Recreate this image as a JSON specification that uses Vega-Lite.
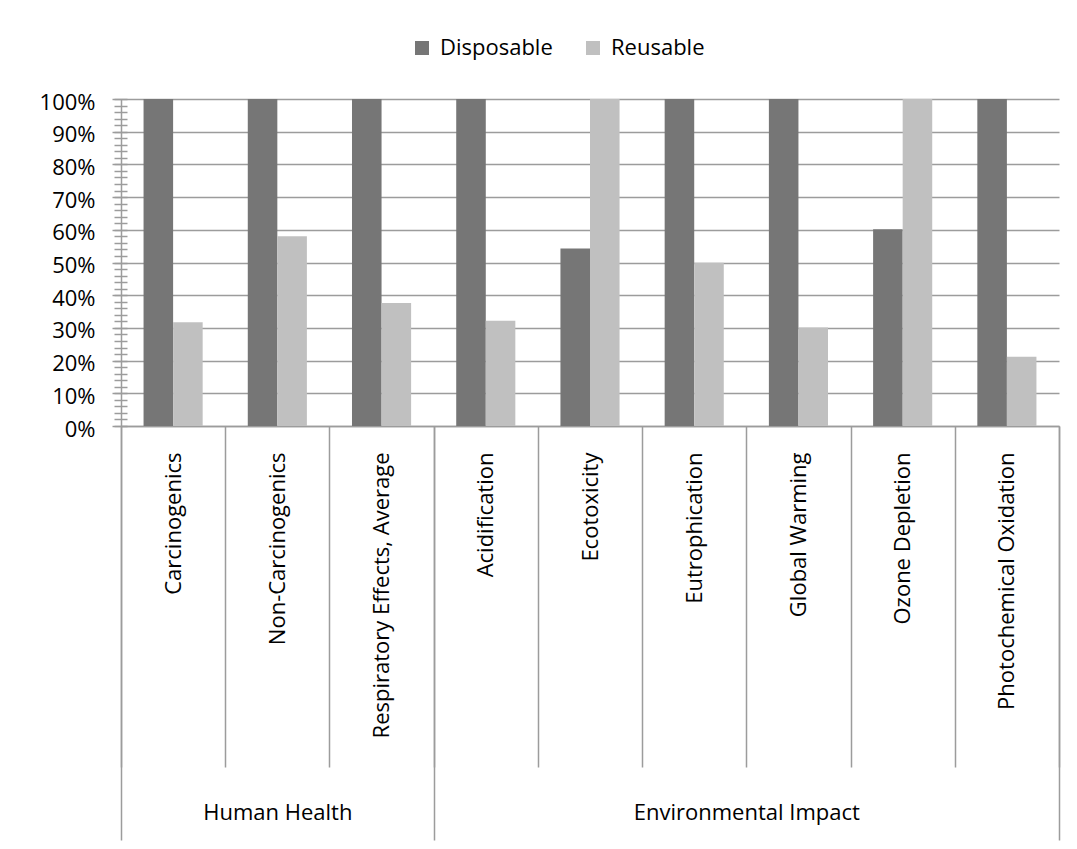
{
  "$schema": "https://vega.github.io/schema/vega-lite/v6.json",
  "autosize": {"type": "none"},
  "padding": {"left": 121, "top": 99, "right": 18, "bottom": 423},
  "width": 938,
  "height": 327,
  "background": "white",
  "config": {
    "view": {"stroke": null},
    "font": "Open Sans",
    "axis": {"labelFont": "Open Sans", "labelColor": "#000000", "labelFontSize": 22, "title": null}
  },
  "data": {
    "values": [
      {"category": "Carcinogenics", "group": "Human Health", "series": "Disposable", "value": 1.0},
      {"category": "Carcinogenics", "group": "Human Health", "series": "Reusable", "value": 0.317},
      {"category": "Non-Carcinogenics", "group": "Human Health", "series": "Disposable", "value": 1.0},
      {"category": "Non-Carcinogenics", "group": "Human Health", "series": "Reusable", "value": 0.58},
      {"category": "Respiratory Effects, Average", "group": "Human Health", "series": "Disposable", "value": 1.0},
      {"category": "Respiratory Effects, Average", "group": "Human Health", "series": "Reusable", "value": 0.376},
      {"category": "Acidification", "group": "Environmental Impact", "series": "Disposable", "value": 1.0},
      {"category": "Acidification", "group": "Environmental Impact", "series": "Reusable", "value": 0.322},
      {"category": "Ecotoxicity", "group": "Environmental Impact", "series": "Disposable", "value": 0.543},
      {"category": "Ecotoxicity", "group": "Environmental Impact", "series": "Reusable", "value": 1.0},
      {"category": "Eutrophication", "group": "Environmental Impact", "series": "Disposable", "value": 1.0},
      {"category": "Eutrophication", "group": "Environmental Impact", "series": "Reusable", "value": 0.499},
      {"category": "Global Warming", "group": "Environmental Impact", "series": "Disposable", "value": 1.0},
      {"category": "Global Warming", "group": "Environmental Impact", "series": "Reusable", "value": 0.301},
      {"category": "Ozone Depletion", "group": "Environmental Impact", "series": "Disposable", "value": 0.602},
      {"category": "Ozone Depletion", "group": "Environmental Impact", "series": "Reusable", "value": 1.0},
      {"category": "Photochemical Oxidation", "group": "Environmental Impact", "series": "Disposable", "value": 1.0},
      {"category": "Photochemical Oxidation", "group": "Environmental Impact", "series": "Reusable", "value": 0.212}
    ]
  },
  "encoding": {
    "x": {
      "field": "category", "type": "nominal", "sort": null,
      "scale": {"paddingInner": 0, "paddingOuter": 0}
    },
    "xOffset": {
      "field": "series", "type": "nominal", "sort": ["Disposable", "Reusable"],
      "scale": {"paddingInner": 0, "paddingOuter": 0.763}
    },
    "y": {
      "field": "value", "type": "quantitative", "stack": null,
      "scale": {"domain": [0, 1], "nice": false, "zero": true}
    }
  },
  "layer": [
    {
      "mark": {"type": "bar"},
      "encoding": {
        "x": {
          "field": "category", "type": "nominal", "sort": null,
          "scale": {"paddingInner": 0, "paddingOuter": 0},
          "axis": {
            "orient": "bottom",
            "domain": true, "domainColor": "#9c9c9c", "domainWidth": 1.5,
            "ticks": true, "tickBand": "extent", "tickSize": 341, "tickColor": "#9c9c9c", "tickWidth": 1.5,
            "grid": false,
            "labelAngle": 270, "labelAlign": "right", "labelBaseline": "middle",
            "labelPadding": -315, "labelLimit": 400, "labelOverlap": false
          }
        },
        "y": {
          "field": "value", "type": "quantitative", "stack": null,
          "scale": {"domain": [0, 1], "nice": false, "zero": true},
          "axis": {
            "orient": "left",
            "values": [0, 0.1, 0.2, 0.3, 0.4, 0.5, 0.6, 0.7, 0.8, 0.9, 1.0],
            "format": ".0%",
            "grid": true, "gridColor": "#9c9c9c", "gridWidth": 1.5,
            "domain": true, "domainColor": "#9c9c9c", "domainWidth": 1.5,
            "tickSize": 9, "tickColor": "#9c9c9c", "tickWidth": 1.5,
            "labelPadding": 17, "labelOffset": 3, "labelFlush": false, "labelOverlap": false
          }
        },
        "color": {
          "field": "series", "type": "nominal",
          "scale": {"domain": ["Disposable", "Reusable"], "range": ["#767676", "#c0c0c0"]},
          "legend": {
            "orient": "none", "legendX": 290, "legendY": -62,
            "direction": "horizontal", "title": null, "padding": 0,
            "symbolType": "square", "symbolSize": 196, "symbolStrokeWidth": 0, "symbolOpacity": 1,
            "labelFont": "Open Sans", "labelFontSize": 22, "labelColor": "#000000",
            "labelOffset": 7, "columnPadding": 29, "labelLimit": 300
          }
        }
      }
    },
    {
      "mark": {"type": "bar", "opacity": 0},
      "encoding": {
        "x": {
          "field": "category", "type": "nominal", "sort": null,
          "scale": {"paddingInner": 0, "paddingOuter": 0},
          "axis": {
            "orient": "bottom",
            "domain": false, "grid": false,
            "ticks": true, "tickBand": "extent", "tickSize": 414, "tickColor": "#9c9c9c", "tickWidth": 1.5,
            "tickOpacity": {"condition": {"test": "datum.extra || datum.value === 'Respiratory Effects, Average' || datum.value === 'Photochemical Oxidation'", "value": 1}, "value": 0},
            "labelAngle": 0, "labelAlign": "center", "labelBaseline": "alphabetic",
            "labelPadding": -21, "labelLimit": 400, "labelOverlap": false,
            "labelExpr": "datum.value === 'Non-Carcinogenics' ? 'Human Health' : (datum.value === 'Eutrophication' ? 'Environmental Impact' : '')",
            "labelOffset": {"condition": {"test": "datum.value === 'Eutrophication'", "value": 52.1}, "value": 0}
          }
        },
        "y": {
          "field": "value", "type": "quantitative", "stack": null,
          "scale": {"domain": [0, 1], "nice": false, "zero": true},
          "axis": {
            "orient": "left", "offset": -6,
            "values": [0, 0.02, 0.04, 0.06, 0.08, 0.1, 0.12, 0.14, 0.16, 0.18, 0.2, 0.22, 0.24, 0.26, 0.28, 0.3, 0.32, 0.34, 0.36, 0.38, 0.4, 0.42, 0.44, 0.46, 0.48, 0.5, 0.52, 0.54, 0.56, 0.58, 0.6, 0.62, 0.64, 0.66, 0.68, 0.7, 0.72, 0.74, 0.76, 0.78, 0.8, 0.82, 0.84, 0.86, 0.88, 0.9, 0.92, 0.94, 0.96, 0.98, 1.0],
            "labels": false, "domain": false, "grid": false,
            "tickSize": 13, "tickColor": "#9c9c9c", "tickWidth": 1.5
          }
        }
      }
    }
  ],
  "resolve": {"axis": {"x": "independent", "y": "independent"}}
}
